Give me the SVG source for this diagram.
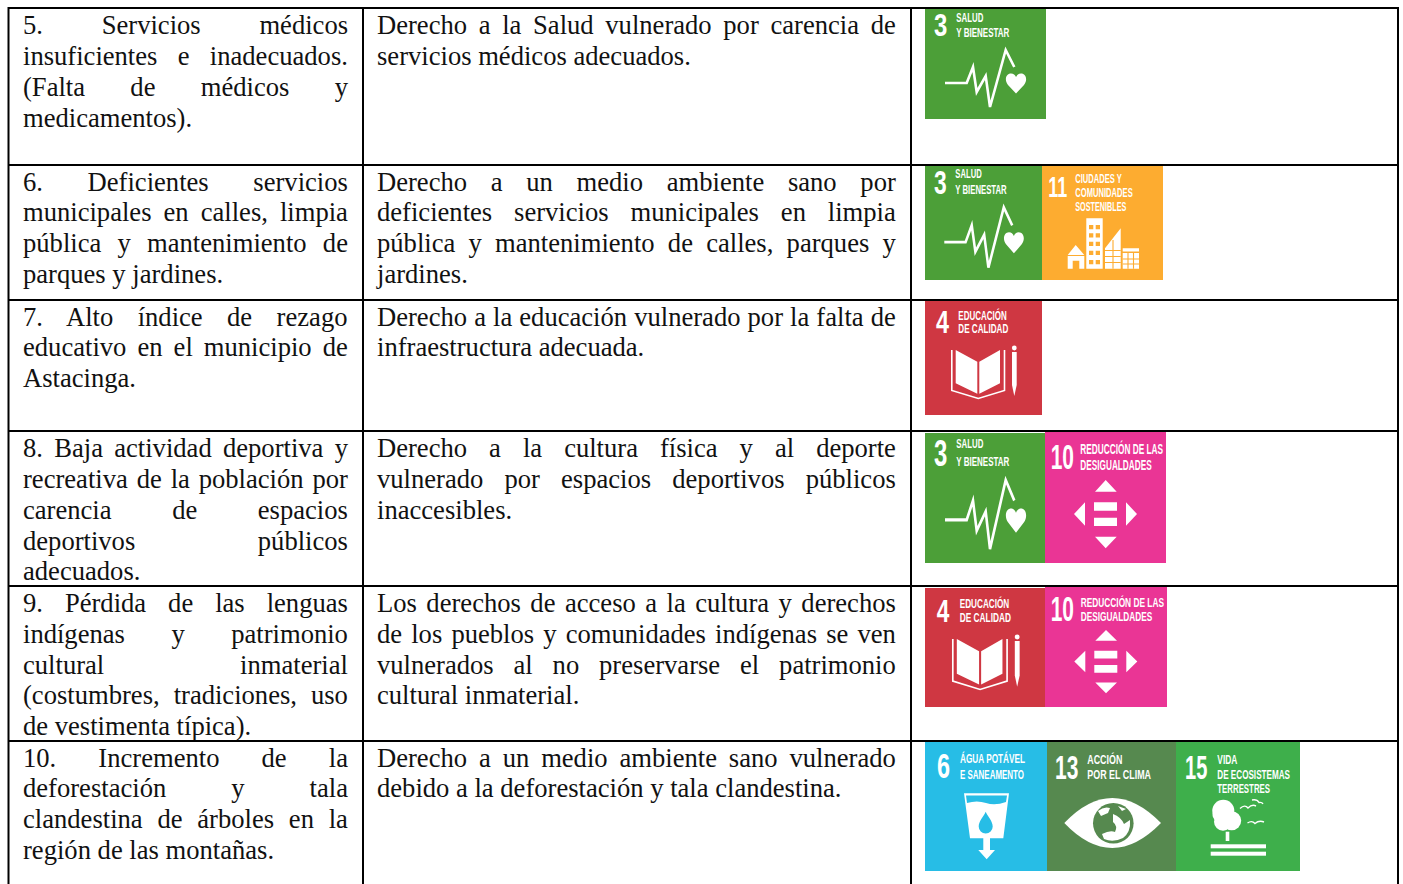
<svg xmlns="http://www.w3.org/2000/svg" width="1403" height="884" viewBox="0 0 1403 884">
<style>
.t{font-family:"Liberation Serif","Times New Roman",serif;font-size:26.6px;fill:#111;transform:translateY(.8px)}
.n{font-family:"Liberation Sans Narrow","Liberation Sans",Arial,sans-serif;font-weight:700;font-size:35px;fill:#fff}
.l{font-family:"Liberation Sans Narrow","Liberation Sans",Arial,sans-serif;font-weight:700;font-size:12.8px;fill:#fff}
.grid line{stroke:#000;stroke-width:2}
.w{fill:#fff}
.wl{fill:none;stroke:#fff}
.g3{fill:#4c9f38}.o11{fill:#fdac30}.r4{fill:#cf3742}.p10{fill:#ea3595}.b6{fill:#27bde6}.g13{fill:#56894f}.g15{fill:#3eaf4b}
</style>
<defs>
<g id="pulse">
<polyline class="wl" stroke-width="2.6" points="20,74 41.7,74 48,58 51.7,83 60.7,67 65,98 80.7,41 89.3,58"/>
<path class="w" d="M91 84.5L83 76C79 71 81 64.5 86 64.5C88.5 64.5 90 66 91 68C92 66 93.5 64.5 96 64.5C101 64.5 103 71 99 76Z"/>
</g>
<g id="book">
<path class="w" d="M30.7 50L52.3 61.7V93.7L30.7 83.3ZM75 50L54.3 61.7V93.7L75 83.3Z"/>
<polyline class="wl" stroke-width="1.6" points="26.8,50 26.8,90.5 53.3,98.5 79.5,90.5 79.5,50"/>
<path class="w" d="M87 52H91.7V85L89.3 96L87 85Z"/>
<circle class="w" cx="89.3" cy="48" r="2.4"/>
</g>
<g id="arrows">
<path class="w" d="M60.7 48L50 59.7H71.7ZM40 70.3L29 82L40 93.7ZM81 70.3L92 82L81 93.7ZM50 104.7H71.7L60.7 116.3ZM49 70.3H72V78.7H49ZM49 85.7H72V94H49Z"/>
</g>
</defs>

<g id="row-5">
<text class="t"><tspan x="23" y="33" style="word-spacing:1.959em">5. Servicios médicos</tspan><tspan x="23" y="64" style="word-spacing:.513em">insuficientes e inadecuados.</tspan><tspan x="23" y="95" style="word-spacing:1.453em">(Falta de médicos y</tspan><tspan x="23" y="126">medicamentos).</tspan></text>
<text class="t"><tspan x="377" y="33" style="word-spacing:.1887em">Derecho a la Salud vulnerado por carencia de</tspan><tspan x="377" y="64">servicios médicos adecuados.</tspan></text>
<g id="ods-5-3"><rect class="g3" x="925" y="9" width="121" height="110"/>
<text class="n" x="934" y="36" style="font-size:31px" textLength="13.3" lengthAdjust="spacingAndGlyphs">3</text>
<text class="l" x="956.3" y="21.7" textLength="27" lengthAdjust="spacingAndGlyphs">SALUD</text>
<text class="l" x="956.3" y="36.7" textLength="53" lengthAdjust="spacingAndGlyphs">Y BIENESTAR</text>
<use href="#pulse" transform="translate(925,9)"/></g>
</g>

<g id="row-6">
<text class="t"><tspan x="23" y="190" style="word-spacing:1.429em">6. Deficientes servicios</tspan><tspan x="23" y="220" style="word-spacing:.203em">municipales en calles, limpia</tspan><tspan x="23" y="251" style="word-spacing:.361em">pública y mantenimiento de</tspan><tspan x="23" y="282">parques y jardines.</tspan></text>
<text class="t"><tspan x="377" y="190" style="word-spacing:.641em">Derecho a un medio ambiente sano por</tspan><tspan x="377" y="220" style="word-spacing:.5725em">deficientes servicios municipales en limpia</tspan><tspan x="377" y="251" style="word-spacing:.248em">pública y mantenimiento de calles, parques y</tspan><tspan x="377" y="282">jardines.</tspan></text>
<g id="ods-6-3"><rect class="g3" x="925" y="165" width="117" height="115"/>
<text class="n" x="934" y="194" style="font-size:34px" textLength="12.7" lengthAdjust="spacingAndGlyphs">3</text>
<text class="l" x="955.3" y="178.3" textLength="26.4" lengthAdjust="spacingAndGlyphs">SALUD</text>
<text class="l" x="955.3" y="194.3" textLength="51.4" lengthAdjust="spacingAndGlyphs">Y BIENESTAR</text>
<use href="#pulse" transform="translate(924.7,163.8) scale(.98,1.06)"/></g>
<g id="ods-6-11"><rect class="o11" x="1042" y="165" width="121" height="115"/>
<text class="n" x="1048.3" y="196.7" style="font-size:30px" textLength="19" lengthAdjust="spacingAndGlyphs">11</text>
<text class="l" x="1075.3" y="183.3" textLength="46.4" lengthAdjust="spacingAndGlyphs" style="font-size:12px">CIUDADES Y</text>
<text class="l" x="1075.3" y="197.3" textLength="57.4" lengthAdjust="spacingAndGlyphs" style="font-size:12px">COMUNIDADES</text>
<text class="l" x="1075.3" y="211" textLength="51" lengthAdjust="spacingAndGlyphs" style="font-size:12px">SOSTENIBLES</text>
<path class="w" d="M1075.7 245L1067.7 255H1084.3ZM1067.7 256H1084.3V268.7H1079.3V260.7H1072.7V268.7H1067.7ZM1086.3 218.3H1102.7V268.7H1086.3ZM1105 248.3L1120.7 228.3V268.7H1105ZM1122.7 248.3H1139V251.5H1122.7ZM1122.7 253H1139V268.7H1122.7Z"/>
<path class="o11" d="M1089 225h4.3v4.3h-4.3zM1095.7 225h4.3v4.3h-4.3zM1089 233.3h4.3v4.3h-4.3zM1095.7 233.3h4.3v4.3h-4.3zM1089 241.7h4.3v4.3h-4.3zM1095.7 241.7h4.3v4.3h-4.3zM1089 250.7h4.3v4.3h-4.3zM1095.7 250.7h4.3v4.3h-4.3zM1089 260h4.3v4.3h-4.3zM1095.7 260h4.3v4.3h-4.3z"/>
<path d="M1113 240V268.7M1105 250.5H1120.7M1105 256.5H1120.7M1105 262.5H1120.7M1128 253V268.7M1133.5 253V268.7M1122.7 259H1139M1122.7 264H1139" fill="none" stroke="#fdac30" stroke-width="1.1"/></g>
</g>

<g id="row-7">
<text class="t"><tspan x="23" y="325" style="word-spacing:.669em">7. Alto índice de rezago</tspan><tspan x="23" y="355" style="word-spacing:.1655em">educativo en el municipio de</tspan><tspan x="23" y="386">Astacinga.</tspan></text>
<text class="t"><tspan x="377" y="325" style="word-spacing:.016em">Derecho a la educación vulnerado por la falta de</tspan><tspan x="377" y="355">infraestructura adecuada.</tspan></text>
<g id="ods-7-4"><rect class="r4" x="925" y="300" width="117" height="115"/>
<text class="n" x="936" y="333.3" style="font-size:31px" textLength="13" lengthAdjust="spacingAndGlyphs">4</text>
<text class="l" x="958.3" y="320" textLength="48.4" lengthAdjust="spacingAndGlyphs" style="font-size:12px">EDUCACIÓN</text>
<text class="l" x="958.3" y="333.3" textLength="50" lengthAdjust="spacingAndGlyphs" style="font-size:12px">DE CALIDAD</text>
<use href="#book" transform="translate(925,300)"/></g>
</g>

<g id="row-8">
<text class="t"><tspan x="23" y="456" style="word-spacing:.1735em">8. Baja actividad deportiva y</tspan><tspan x="23" y="487" style="word-spacing:.0835em">recreativa de la población por</tspan><tspan x="23" y="518" style="word-spacing:2.027em">carencia de espacios</tspan><tspan x="23" y="549" style="word-spacing:4.357em">deportivos públicos</tspan><tspan x="23" y="579">adecuados.</tspan></text>
<text class="t"><tspan x="377" y="456" style="word-spacing:.578em">Derecho a la cultura física y al deporte</tspan><tspan x="377" y="487" style="word-spacing:.5445em">vulnerado por espacios deportivos públicos</tspan><tspan x="377" y="518">inaccesibles.</tspan></text>
<g id="ods-8-3"><rect class="g3" x="925" y="433" width="120" height="130"/>
<text class="n" x="934" y="465.7" style="font-size:37px" textLength="13.3" lengthAdjust="spacingAndGlyphs">3</text>
<text class="l" x="956.3" y="448.3" textLength="27" lengthAdjust="spacingAndGlyphs" style="font-size:13.5px">SALUD</text>
<text class="l" x="956.3" y="466" textLength="53" lengthAdjust="spacingAndGlyphs" style="font-size:13.5px">Y BIENESTAR</text>
<use href="#pulse" transform="translate(925,430.4) scale(1,1.21)"/></g>
<g id="ods-8-10"><rect class="p10" x="1045" y="432" width="121" height="131"/>
<text class="n" x="1050.7" y="469.3" textLength="23.3" lengthAdjust="spacingAndGlyphs">10</text>
<text class="l" x="1080.3" y="454.3" textLength="82.7" lengthAdjust="spacingAndGlyphs" style="font-size:14px">REDUCCIÓN DE LAS</text>
<text class="l" x="1080.3" y="470" textLength="71.4" lengthAdjust="spacingAndGlyphs" style="font-size:14px">DESIGUALDADES</text>
<use href="#arrows" transform="translate(1045,432)"/></g>
</g>

<g id="row-9">
<text class="t"><tspan x="23" y="611" style="word-spacing:.5755em">9. Pérdida de las lenguas</tspan><tspan x="23" y="642" style="word-spacing:1.498em">indígenas y patrimonio</tspan><tspan x="23" y="673" style="word-spacing:4.858em">cultural inmaterial</tspan><tspan x="23" y="703" style="word-spacing:.2765em">(costumbres, tradiciones, uso</tspan><tspan x="23" y="734">de vestimenta típica).</tspan></text>
<text class="t"><tspan x="377" y="611" style="word-spacing:.1065em">Los derechos de acceso a la cultura y derechos</tspan><tspan x="377" y="642" style="word-spacing:.093em">de los pueblos y comunidades indígenas se ven</tspan><tspan x="377" y="673" style="word-spacing:.497em">vulnerados al no preservarse el patrimonio</tspan><tspan x="377" y="703">cultural inmaterial.</tspan></text>
<g id="ods-9-4"><rect class="r4" x="925" y="588" width="120" height="119"/>
<text class="n" x="936.7" y="621.7" style="font-size:31px" textLength="12.6" lengthAdjust="spacingAndGlyphs">4</text>
<text class="l" x="959.7" y="608.3" textLength="49.6" lengthAdjust="spacingAndGlyphs">EDUCACIÓN</text>
<text class="l" x="959.7" y="622.3" textLength="51.3" lengthAdjust="spacingAndGlyphs">DE CALIDAD</text>
<use href="#book" transform="translate(925.2,587) scale(1.03,1.04)"/></g>
<g id="ods-9-10"><rect class="p10" x="1045" y="586" width="122" height="121"/>
<text class="n" x="1050.7" y="620.7" textLength="23.3" lengthAdjust="spacingAndGlyphs">10</text>
<text class="l" x="1080.7" y="606.7" textLength="83.3" lengthAdjust="spacingAndGlyphs">REDUCCIÓN DE LAS</text>
<text class="l" x="1080.7" y="621.3" textLength="71.6" lengthAdjust="spacingAndGlyphs">DESIGUALDADES</text>
<use href="#arrows" transform="translate(1045.3,585.5) scale(1,.927)"/></g>
</g>

<g id="row-10">
<text class="t"><tspan x="23" y="766" style="word-spacing:1.333em">10. Incremento de la</tspan><tspan x="23" y="796" style="word-spacing:2.194em">deforestación y tala</tspan><tspan x="23" y="827" style="word-spacing:.3055em">clandestina de árboles en la</tspan><tspan x="23" y="858">región de las montañas.</tspan></text>
<text class="t"><tspan x="377" y="766" style="word-spacing:.197em">Derecho a un medio ambiente sano vulnerado</tspan><tspan x="377" y="796">debido a la deforestación y tala clandestina.</tspan></text>
<g id="ods-10-6"><rect class="b6" x="925" y="741" width="122" height="130"/>
<text class="n" x="937" y="778.3" textLength="13" lengthAdjust="spacingAndGlyphs">6</text>
<text class="l" x="960" y="762.8" textLength="65" lengthAdjust="spacingAndGlyphs">ÁGUA POTÁVEL</text>
<text class="l" x="960" y="778.5" textLength="64" lengthAdjust="spacingAndGlyphs">E SANEAMENTO</text>
<path class="w" d="M964 793.3H1009L1003.3 838.3H990V850H995L986.7 859.3L978.3 850H983.3V838.3H970Z"/>
<path class="b6" d="M966 795.5H1007L1006 802Q995 806 986 803T967 803Z"/>
<path class="b6" d="M985.7 811.7C988 817 992.7 821 992.7 826.5A7 7 0 0 1 978.7 826.5C978.7 821 983.4 817 985.7 811.7Z"/></g>
<g id="ods-10-13"><rect class="g13" x="1047" y="742" width="129" height="129"/>
<text class="n" x="1055" y="779" style="font-size:33px" textLength="23.3" lengthAdjust="spacingAndGlyphs">13</text>
<text class="l" x="1087.3" y="764" textLength="35" lengthAdjust="spacingAndGlyphs">ACCIÓN</text>
<text class="l" x="1087.3" y="779.3" textLength="63.7" lengthAdjust="spacingAndGlyphs">POR EL CLIMA</text>
<path class="w" d="M1064.3 823Q1112 773 1161 823Q1112 873 1064.3 823Z"/>
<circle class="g13" cx="1113.3" cy="823.3" r="20.3"/>
<path class="w" d="M1098 811Q1104 806 1110 808L1108 813L1101 816ZM1113 814Q1121 817 1124 824L1130 820Q1131 832 1123 838Q1113 843 1104 839L1102 834Q1110 830 1115 832Q1118 826 1113 822ZM1118 806L1126 809L1122 811Z"/></g>
<g id="ods-10-15"><rect class="g15" x="1176" y="742" width="124" height="129"/>
<text class="n" x="1185" y="779" style="font-size:33px" textLength="22.3" lengthAdjust="spacingAndGlyphs">15</text>
<text class="l" x="1217.3" y="764" textLength="20" lengthAdjust="spacingAndGlyphs">VIDA</text>
<text class="l" x="1217.3" y="779" textLength="72.7" lengthAdjust="spacingAndGlyphs">DE ECOSISTEMAS</text>
<text class="l" x="1217.3" y="793.3" textLength="52.7" lengthAdjust="spacingAndGlyphs">TERRESTRES</text>
<g class="w"><circle cx="1223.3" cy="810.7" r="11"/><circle cx="1219" cy="815" r="6.5"/><circle cx="1231.7" cy="820.7" r="9.5"/><circle cx="1223" cy="821.7" r="9"/><rect x="1225.7" y="831.7" width="3.6" height="9.3"/><rect x="1210.7" y="844.3" width="55.3" height="4"/><rect x="1210.7" y="851.7" width="55.3" height="4"/></g>
<path class="wl" stroke-width="1.4" d="M1240 808.5Q1245 804 1248 808Q1252 804 1256 806M1252 800Q1257 799 1259 802.5Q1262 802 1263 804M1247.5 823Q1252 820 1255 823.5Q1259 820 1264 822"/></g>
</g>

<g id="grid" class="grid">
<line x1="8" y1="8" x2="1399" y2="8"/>
<line x1="8" y1="165" x2="1399" y2="165"/>
<line x1="8" y1="300" x2="1399" y2="300"/>
<line x1="8" y1="431" x2="1399" y2="431"/>
<line x1="8" y1="586" x2="1399" y2="586"/>
<line x1="8" y1="741" x2="1399" y2="741"/>
<line x1="8.5" y1="7" x2="8.5" y2="884"/>
<line x1="363" y1="7" x2="363" y2="884"/>
<line x1="911" y1="7" x2="911" y2="884"/>
<line x1="1398" y1="7" x2="1398" y2="884"/>
</g>
</svg>
